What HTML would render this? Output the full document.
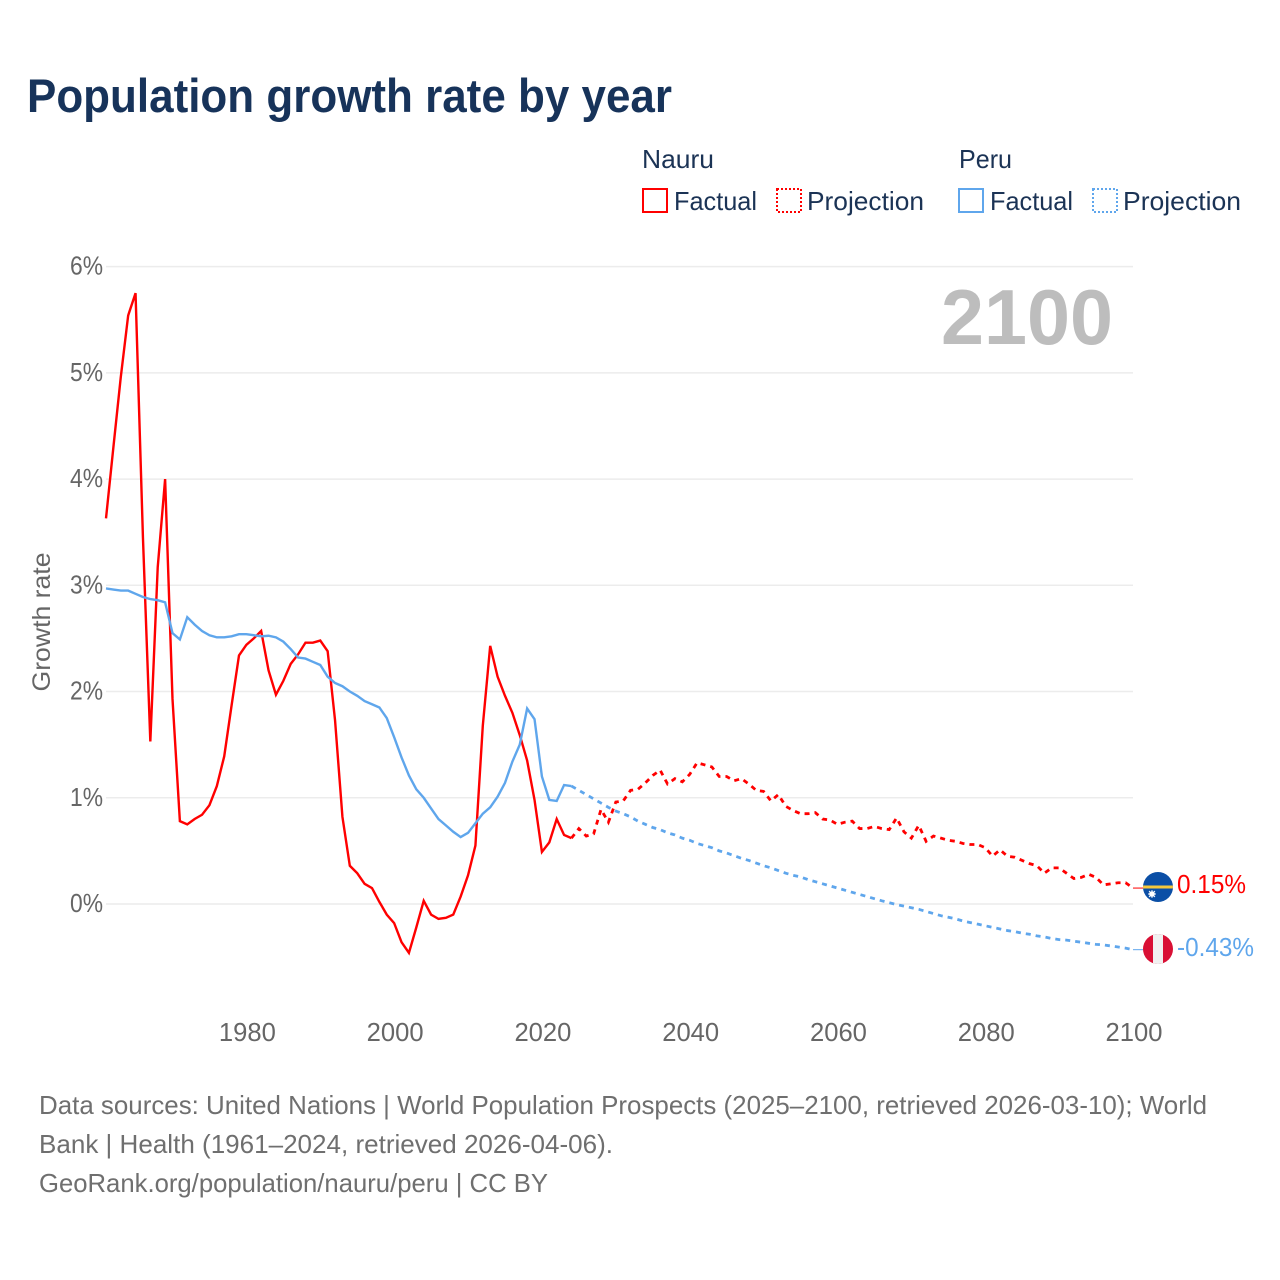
<!DOCTYPE html>
<html lang="en">
<head>
<meta charset="utf-8">
<title>Population growth rate by year</title>
<style>
html,body{margin:0;padding:0;background:#fff;width:1280px;height:1280px;overflow:hidden}
svg{display:block;font-family:"Liberation Sans",sans-serif}
</style>
</head>
<body>
<svg id="chart" width="1280" height="1280" viewBox="0 0 1280 1280" xmlns="http://www.w3.org/2000/svg">
  <defs>
    <clipPath id="clip-nauru"><circle cx="1158" cy="887" r="15"/></clipPath>
    <clipPath id="clip-peru"><circle cx="1158" cy="949" r="15"/></clipPath>
  </defs>
  <text x="27" y="112" font-size="47" font-weight="700" fill="#17335a" textLength="645" lengthAdjust="spacingAndGlyphs">Population growth rate by year</text>

  <g font-size="26" fill="#1b3355">
    <text x="642" y="168" textLength="72" lengthAdjust="spacingAndGlyphs">Nauru</text>
    <text x="959" y="168" textLength="53" lengthAdjust="spacingAndGlyphs">Peru</text>
    <rect x="643" y="189" width="24" height="23" fill="none" stroke="#ff0000" stroke-width="2"/>
    <text x="674" y="210" textLength="83" lengthAdjust="spacingAndGlyphs">Factual</text>
    <rect x="777" y="189" width="24" height="23" fill="none" stroke="#ff0000" stroke-width="2" stroke-dasharray="2 2"/>
    <text x="807" y="210" textLength="117" lengthAdjust="spacingAndGlyphs">Projection</text>
    <rect x="959" y="189" width="24" height="23" fill="none" stroke="#5fa6ec" stroke-width="2"/>
    <text x="990" y="210" textLength="83" lengthAdjust="spacingAndGlyphs">Factual</text>
    <rect x="1093" y="189" width="24" height="23" fill="none" stroke="#5fa6ec" stroke-width="2" stroke-dasharray="2 2"/>
    <text x="1123" y="210" textLength="118" lengthAdjust="spacingAndGlyphs">Projection</text>
  </g>

  <g id="grid"></g>
  <g id="y-axis"></g>
  <g id="x-axis"></g>
  <text transform="translate(50 622) rotate(-90)" text-anchor="middle" font-size="25" fill="#666" textLength="139" lengthAdjust="spacingAndGlyphs">Growth rate</text>
  <text x="1113" y="344" text-anchor="end" font-size="78" font-weight="700" fill="#bdbdbd" textLength="172" lengthAdjust="spacingAndGlyphs">2100</text>

  <g id="series"></g>

  <g clip-path="url(#clip-nauru)">
    <rect x="1143" y="872" width="30" height="30" fill="#0b4fa6"/>
    <rect x="1143" y="885.5" width="30" height="3" fill="#f5c83c"/>
    <circle cx="1152" cy="894" r="2.8" fill="#fff"/>
    <path d="M1152 890v8M1148 894h8M1149 891l6 6M1155 891l-6 6" stroke="#fff" stroke-width="0.9"/>
  </g>
  <g clip-path="url(#clip-peru)">
    <rect x="1143" y="934" width="30" height="30" fill="#d91035"/>
    <rect x="1153" y="934" width="10" height="30" fill="#f1f1f1"/>
  </g>
  <text id="label-nauru" x="1177" y="893" font-size="25.5" fill="#ff0000" textLength="69" lengthAdjust="spacingAndGlyphs"></text>
  <text id="label-peru" x="1177" y="956" font-size="25.5" fill="#5fa6ec" textLength="77" lengthAdjust="spacingAndGlyphs"></text>

  <g font-size="26" fill="#6f6f6f">
    <text x="39" y="1114" textLength="1168" lengthAdjust="spacingAndGlyphs">Data sources: United Nations | World Population Prospects (2025–2100, retrieved 2026-03-10); World</text>
    <text x="39" y="1153" textLength="574" lengthAdjust="spacingAndGlyphs">Bank | Health (1961–2024, retrieved 2026-04-06).</text>
    <text x="39" y="1192" textLength="509" lengthAdjust="spacingAndGlyphs">GeoRank.org/population/nauru/peru | CC BY</text>
  </g>
</svg>
<script>
var firstYear = 1961;
var projectionStartYear = 2024;
var xTickYears = [1980, 2000, 2020, 2040, 2060, 2080, 2100];
var yTickValues = [0, 1, 2, 3, 4, 5, 6];
var yTickLabels = ["0%", "1%", "2%", "3%", "4%", "5%", "6%"];

var nauruFactual = [3.63,4.30,4.96,5.54,5.75,3.45,1.53,3.17,4.00,1.93,
  0.78,0.75,0.80,0.84,0.93,1.11,1.39,1.87,2.34,2.44,
  2.50,2.57,2.20,1.97,2.10,2.26,2.35,2.46,2.46,2.48,
  2.38,1.73,0.82,0.36,0.29,0.19,0.15,0.02,-0.10,-0.18,
  -0.36,-0.46,-0.22,0.03,-0.10,-0.14,-0.13,-0.10,0.07,0.27,
  0.55,1.68,2.43,2.14,1.96,1.80,1.59,1.35,0.98,0.49,
  0.58,0.80,0.65,0.62];
var nauruProjection = [0.62,0.71,0.64,0.66,0.89,0.77,0.96,0.97,1.07,1.08,
  1.14,1.21,1.26,1.13,1.18,1.15,1.22,1.33,1.31,1.29,
  1.20,1.20,1.16,1.18,1.13,1.07,1.06,0.97,1.03,0.92,
  0.88,0.85,0.85,0.86,0.80,0.79,0.75,0.77,0.78,0.71,
  0.71,0.73,0.71,0.70,0.81,0.68,0.62,0.74,0.59,0.64,
  0.62,0.60,0.59,0.57,0.56,0.56,0.53,0.45,0.51,0.45,
  0.44,0.41,0.38,0.36,0.29,0.34,0.34,0.29,0.24,0.25,
  0.28,0.25,0.18,0.19,0.20,0.20,0.15];
var peruFactual = [2.97,2.96,2.95,2.95,2.92,2.89,2.87,2.86,2.84,2.55,
  2.49,2.70,2.63,2.57,2.53,2.51,2.51,2.52,2.54,2.54,
  2.53,2.52,2.525,2.51,2.47,2.40,2.32,2.31,2.28,2.25,
  2.14,2.08,2.05,2.00,1.96,1.91,1.88,1.85,1.75,1.57,
  1.38,1.21,1.08,1.00,0.90,0.80,0.74,0.68,0.63,0.67,
  0.76,0.85,0.91,1.01,1.14,1.34,1.50,1.84,1.74,1.20,
  0.98,0.97,1.12,1.11];
var peruProjection = [1.11,1.07,1.03,0.99,0.95,0.91,0.875,0.85,0.82,0.78,
  0.75,0.72,0.70,0.67,0.65,0.62,0.60,0.57,0.55,0.53,
  0.50,0.48,0.455,0.43,0.41,0.385,0.36,0.34,0.315,0.29,
  0.27,0.255,0.23,0.21,0.19,0.17,0.15,0.13,0.11,0.09,
  0.07,0.05,0.03,0.012,-0.005,-0.02,-0.035,-0.05,-0.07,-0.09,
  -0.11,-0.125,-0.14,-0.16,-0.175,-0.19,-0.205,-0.22,-0.235,-0.25,
  -0.26,-0.275,-0.285,-0.30,-0.31,-0.325,-0.335,-0.34,-0.35,-0.36,
  -0.37,-0.38,-0.385,-0.395,-0.405,-0.415,-0.43];

var SVGNS = "http://www.w3.org/2000/svg";
function xScale(year){ return 106 + (year - 1961) * (1133 - 106) / (2100 - 1961); }
function yScale(v){ return 904 - v * (904 - 266.6) / 6; }
function make(tag, parent){
  var el = document.createElementNS(SVGNS, tag);
  document.getElementById(parent).appendChild(el);
  return el;
}
function linePoints(values, startYear){
  return values.map(function(v, i){
    return xScale(startYear + i).toFixed(2) + "," + yScale(v).toFixed(2);
  }).join(" ");
}
function formatPct(v){ return v.toFixed(2) + "%"; }

yTickValues.forEach(function(v, i){
  var g = make("line", "grid");
  
  
  g.setAttribute("x1", 106);
  g.setAttribute("x2", 1133);
  g.setAttribute("y1", yScale(v));
  g.setAttribute("y2", yScale(v));
  g.setAttribute("stroke", "#ececec");
  g.setAttribute("stroke-width", "1.5");
  var t = make("text", "y-axis");
  
  
  t.setAttribute("x", 103);
  t.setAttribute("y", yScale(v) + 8);
  t.setAttribute("text-anchor", "end");
  t.setAttribute("font-size", "25.5");
  t.setAttribute("fill", "#666");
  t.setAttribute("textLength", "33");
  t.setAttribute("lengthAdjust", "spacingAndGlyphs");
  t.textContent = yTickLabels[i];
});

xTickYears.forEach(function(year){
  var t = make("text", "x-axis");
  
  
  t.setAttribute("x", xScale(year) + 1);
  t.setAttribute("y", 1041);
  t.setAttribute("text-anchor", "middle");
  t.setAttribute("font-size", "25.6");
  t.setAttribute("fill", "#666");
  t.textContent = String(year);
});

function drawLine(name, values, startYear, color, dashed){
  var p = make("polyline", "series");
  
  
  p.setAttribute("points", linePoints(values, startYear));
  p.setAttribute("fill", "none");
  p.setAttribute("stroke", color);
  p.setAttribute("stroke-width", dashed ? "2.8" : "2.4");
  p.setAttribute("stroke-linejoin", "miter");
  if (dashed) { p.setAttribute("stroke-dasharray", "5 5"); }
}
function drawConnector(name, value, color){
  var c = make("line", "series");
  
  
  c.setAttribute("x1", xScale(2100));
  c.setAttribute("x2", 1143);
  c.setAttribute("y1", yScale(value));
  c.setAttribute("y2", yScale(value));
  c.setAttribute("stroke", color);
  c.setAttribute("stroke-width", "1");
}
drawLine("nauru-factual-line", nauruFactual, firstYear, "#ff0000", false);
drawLine("peru-factual-line", peruFactual, firstYear, "#5fa6ec", false);
drawLine("nauru-projection-line", nauruProjection, projectionStartYear, "#ff0000", true);
drawLine("peru-projection-line", peruProjection, projectionStartYear, "#5fa6ec", true);
var nauruEnd = nauruProjection[nauruProjection.length - 1];
var peruEnd = peruProjection[peruProjection.length - 1];
drawConnector("nauru-end-connector", nauruEnd, "#ff0000");
drawConnector("peru-end-connector", peruEnd, "#5fa6ec");
document.getElementById("label-nauru").textContent = formatPct(nauruEnd);
document.getElementById("label-peru").textContent = formatPct(peruEnd);
</script>
</body>
</html>
